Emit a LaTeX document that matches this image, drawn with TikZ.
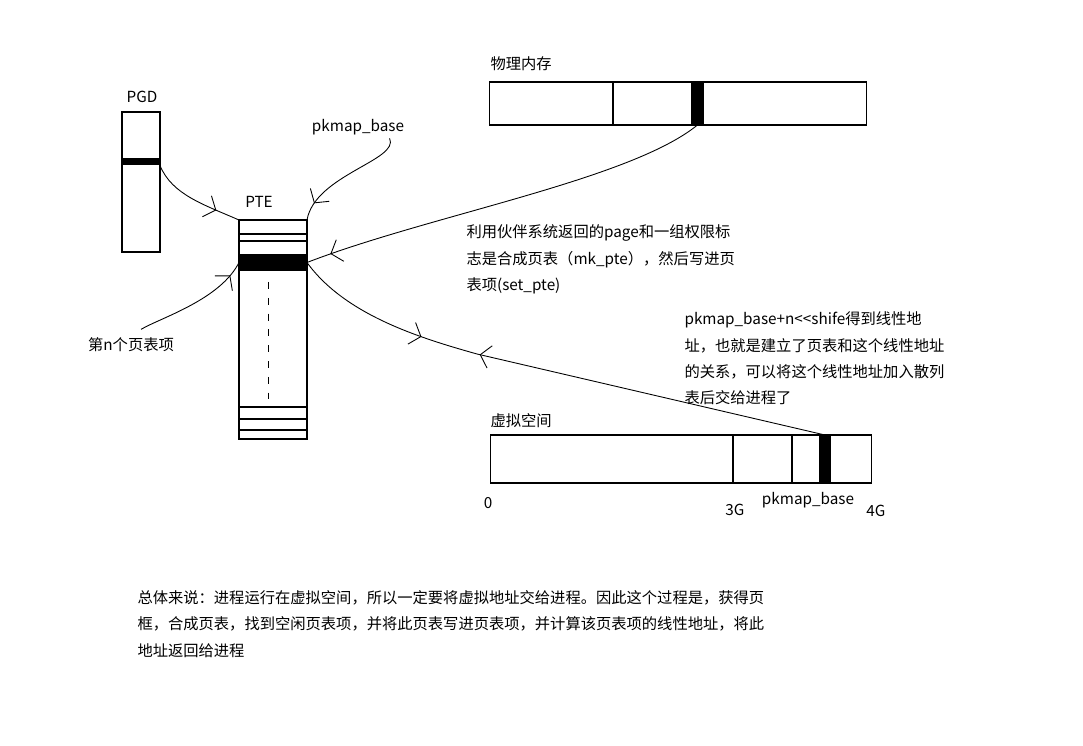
\documentclass[tikz,border=0pt]{standalone}
\usepackage{fontspec}
\setmainfont{Noto Sans CJK SC}
\usepackage{tikz}
\usetikzlibrary{arrows.meta, decorations.markings, calc}

\tikzset{
  hbarb/.tip={Straight Barb[length=5.5pt, width=13pt]},
  memblock/.style={draw, inner sep=0pt, outer sep=0pt},
  slot/.style={fill=black, inner sep=0pt, outer sep=0pt},
  txt/.style={font=\fontsize{8.7}{15}\selectfont, inner sep=0pt, align=left},
  link/.style={line width=0.5pt},
  tipat/.style={link, postaction={decorate},
    decoration={markings, mark=at position #1 with {\arrow{hbarb}}}}
}

\begin{document}
\begin{tikzpicture}[x=0.02cm, y=-0.02cm, line width=0.6pt]
		\useasboundingbox (0,0) rectangle (1083,746);

		\node[memblock, minimum width=0.76cm, minimum height=2.8cm] (pgd) at (141,182) {};
		\node[slot, minimum width=0.76cm, minimum height=0.14cm] (pgdslot) at (141,162) {};
		\node[txt] (pgdlbl) at (142,97) {PGD};

		\node[memblock, minimum width=1.36cm, minimum height=4.38cm] (pte) at (273,329.5) {};
		\foreach \y in {234,241,407,419,430}
			\draw (239,\y) -- (307,\y);
		\node[slot, minimum width=1.36cm, minimum height=0.34cm] (pteslot) at (273,262.5) {};
		\draw[line width=0.45pt, dash pattern=on 4pt off 5pt] (268,282) -- (268,399);
		\node[txt] (ptelbl) at (259,202) {PTE};
		\node[txt] (pklbl) at (358,127) {pkmap\_base};

		\node[memblock, minimum width=7.56cm, minimum height=0.86cm] (phys) at (678,103.5) {};
		\draw (613,82) -- (613,125);
		\node[slot, minimum width=0.26cm, minimum height=0.86cm] (physslot) at (697.5,103.5) {};
		\node[txt, anchor=west] (physlbl) at (490,64) {物理内存};

		\node[memblock, minimum width=7.64cm, minimum height=0.96cm] (virt) at (681,459) {};
		\draw (733,435) -- (733,483);
		\draw[line width=1.5pt] (792,435) -- (792,483);
		\node[slot, minimum width=0.24cm, minimum height=0.96cm] (virtslot) at (825,459) {};
		\node[txt, anchor=west] (virtlbl) at (490,421) {虚拟空间};
		\node[txt] (zero) at (488,503) {0};
		\node[txt] (three) at (735,510) {3G};
		\node[txt] (pkvirt) at (808,500) {pkmap\_base};
		\node[txt] (four) at (876,511) {4G};

		\node[txt] (nthlbl) at (131,345) {第n个页表项};
		\node[txt, anchor=west] (buddy) at (466,259.5) {利用伙伴系统返回的page和一组权限标\\志是合成页表（mk\_pte），然后写进页\\表项(set\_pte)};
		\node[txt, anchor=west] (linaddr) at (684,358.5) {pkmap\_base+n<\kern0pt<shife得到线性地\\址，也就是建立了页表和这个线性地址\\的关系，可以将这个线性地址加入散列\\表后交给进程了};
		\node[txt, anchor=west] (summary) at (137,624) {总体来说：进程运行在虚拟空间，所以一定要将虚拟地址交给进程。因此这个过程是，获得页\\框，合成页表，找到空闲页表项，并将此页表写进页表项，并计算该页表项的线性地址，将此\\地址返回给进程};

		\coordinate (bend) at (477,354);
		\draw[tipat=0.75] (pgdslot.south east) .. controls (172,195) and (205,205) .. (pte.north west);
		\draw[tipat=0.85] ($(pklbl.south east)+(-15,3)$) .. controls (400,160) and (315,175) .. (pte.north east);
		\draw[tipat=0.94] (physslot.south) .. controls (630,180) and (430,215) .. (pteslot.east);
		\draw[link, postaction={decorate}, decoration={markings,
			mark=at position 0.25 with {\arrow{hbarb}},
			mark=at position 0.36 with {\arrowreversed{hbarb}}}]
			(pteslot.east) .. controls (345,315) and (420,338) .. (bend) -- (virtslot.north);
		\draw[tipat=0.87] ($(nthlbl.north)+(10,-8)$) .. controls (160,318) and (220,300) .. (pteslot.west);
	\end{tikzpicture}
\end{document}
